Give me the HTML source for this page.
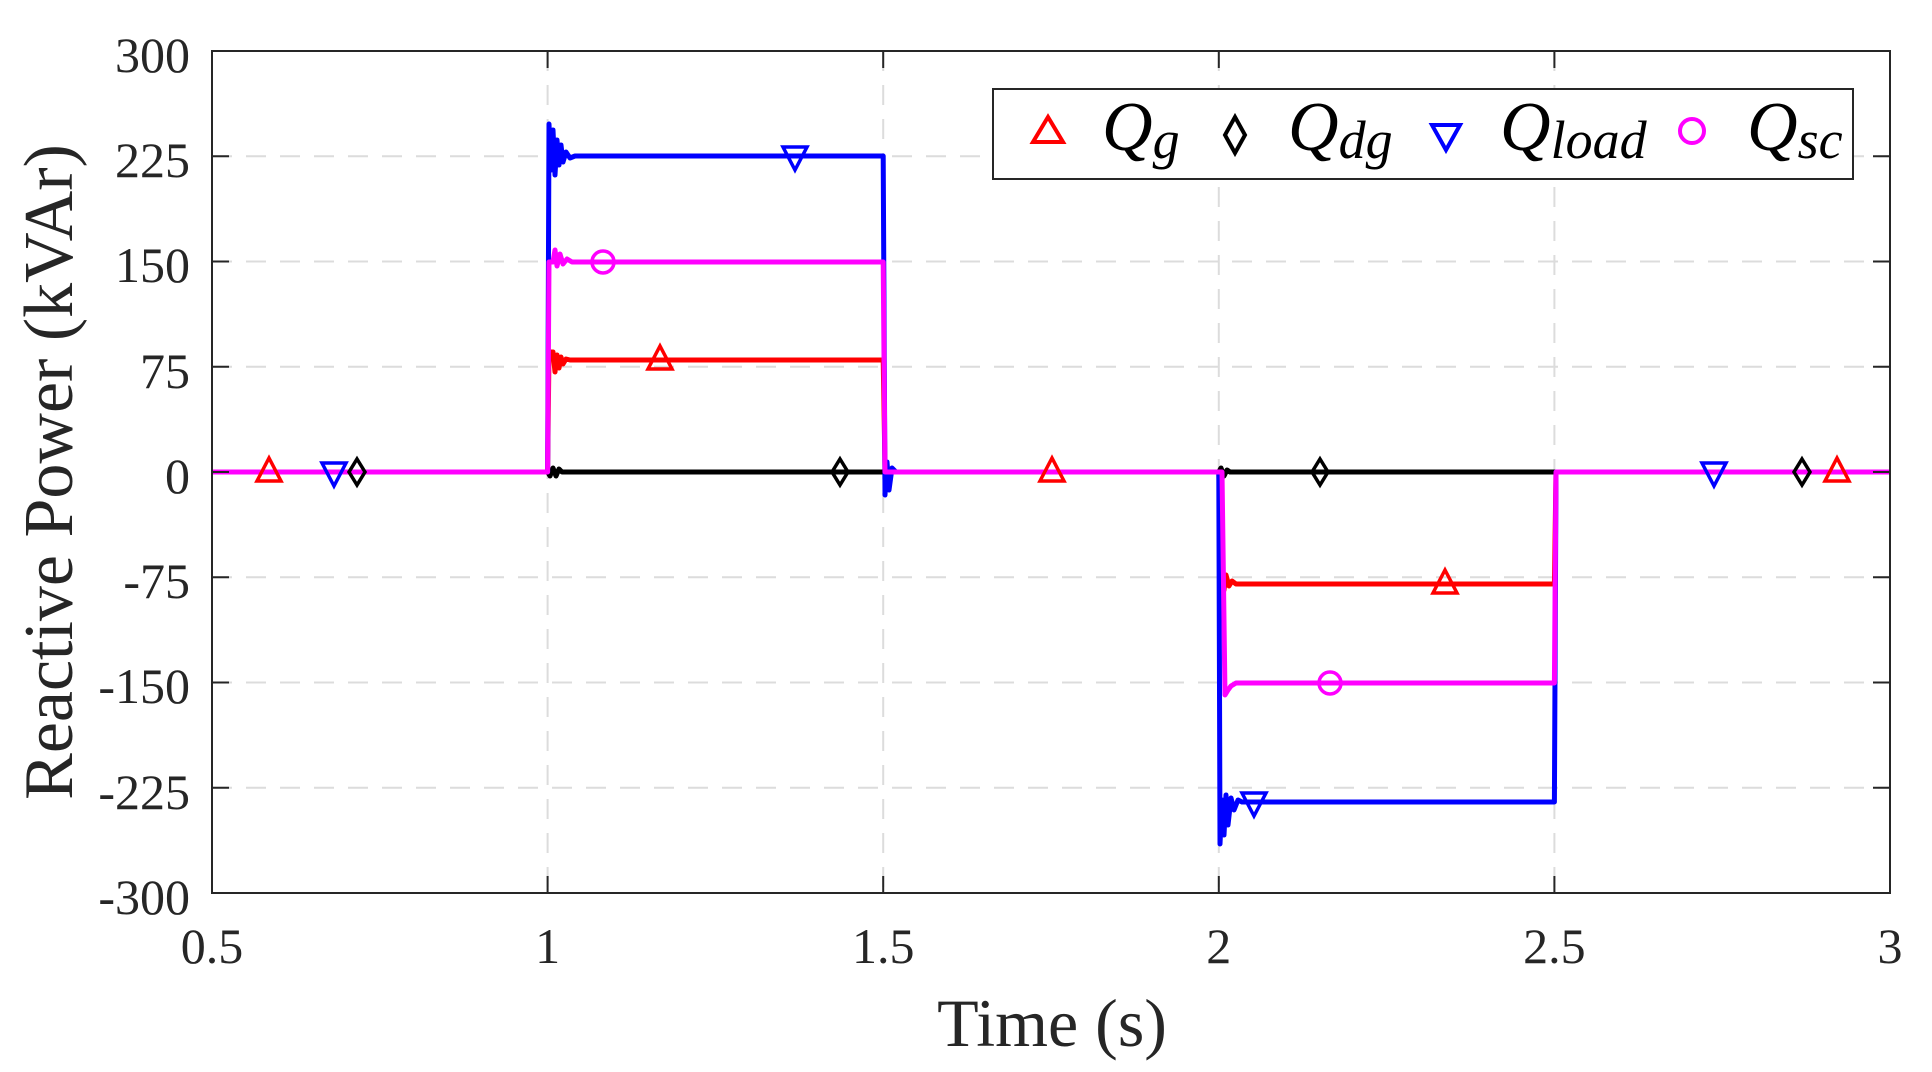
<!DOCTYPE html>
<html><head><meta charset="utf-8"><style>
body{margin:0;background:#fff;}
svg{display:block;}
text{font-family:"Liberation Serif",serif;fill:#262626;}
</style></head><body>
<svg width="1932" height="1072" viewBox="0 0 1932 1072" xmlns="http://www.w3.org/2000/svg">
<rect width="1932" height="1072" fill="#fff"/>
<g stroke="#dcdcdc" stroke-width="2" stroke-dasharray="20,14">
<line x1="547.6" y1="51" x2="547.6" y2="893"/>
<line x1="883.2" y1="51" x2="883.2" y2="893"/>
<line x1="1218.8" y1="51" x2="1218.8" y2="893"/>
<line x1="1554.4" y1="51" x2="1554.4" y2="893"/>
<line x1="212" y1="156.3" x2="1890" y2="156.3"/>
<line x1="212" y1="261.5" x2="1890" y2="261.5"/>
<line x1="212" y1="366.8" x2="1890" y2="366.8"/>
<line x1="212" y1="472" x2="1890" y2="472"/>
<line x1="212" y1="577.3" x2="1890" y2="577.3"/>
<line x1="212" y1="682.5" x2="1890" y2="682.5"/>
<line x1="212" y1="787.8" x2="1890" y2="787.8"/>
</g>
<g fill="none" stroke-width="5" stroke-linejoin="round">
<path stroke="#ff0000" d="M212,472 L547.6,472 L549,352 L553,352 L555,372 L557,355 L559,368 L561,357 L563,364 L566,359 L570,360 L883.2,360 L885,468 L888,476 L891,470 L895,472 L1218.8,472 L1221,560 L1224,590 L1226,575 L1229,586 L1232,581 L1236,584 L1554.4,584 L1556,472 L1890,472"/>
<path stroke="#000" d="M212,472 L547.6,472 L550,476 L553,468 L556,476 L559,469 L562,472 L883.2,472 L1218.8,472 L1221,468 L1224,476 L1227,470 L1230,472 L1890,472"/>
<path stroke="#0000ff" d="M212,472 L547.6,472 L549,124 L551,170 L553,130 L555,175 L557,140 L559,165 L561,145 L563,162 L566,152 L570,158 L575,156 L883.2,156 L885,495 L887,462 L889,490 L892,468 L896,472 L1218.8,472 L1220,844 L1222,800 L1224,835 L1226,795 L1228,825 L1231,798 L1234,810 L1238,800 L1242,802 L1554.4,802 L1556,472 L1890,472"/>
<path stroke="#ff00ff" d="M212,472 L547.6,472 L549,262 L553,262 L555,250 L557,266 L560,254 L563,264 L567,259 L572,262 L883.2,262 L885,472 L1218.8,472 L1222,472 L1225,695 L1228,690 L1231,686 L1236,683 L1554.4,683 L1556,472 L1890,472"/>
</g>
<g fill="none" stroke-width="3.5">
<g stroke="#ff0000">
<path d="M269,458 L257,481 L281,481 Z"/><path d="M660,346 L648,369 L672,369 Z"/><path d="M1052,458 L1040,481 L1064,481 Z"/><path d="M1445,570 L1433,593 L1457,593 Z"/><path d="M1837,458 L1825,481 L1849,481 Z"/>
</g>
<g stroke="#000">
<path d="M357,459 L365,472 L357,485 L349,472 Z"/><path d="M840,459 L848,472 L840,485 L832,472 Z"/><path d="M1320,459 L1328,472 L1320,485 L1312,472 Z"/><path d="M1802,459 L1810,472 L1802,485 L1794,472 Z"/>
</g>
<g stroke="#0000ff">
<path d="M322,463 L346,463 L334,486 Z"/><path d="M783,147 L807,147 L795,170 Z"/><path d="M1242,793 L1266,793 L1254,816 Z"/><path d="M1702,463 L1726,463 L1714,486 Z"/>
</g>
<g stroke="#ff00ff">
<circle cx="603" cy="262" r="11"/><circle cx="1330" cy="683" r="11"/>
</g>
</g>
<rect x="212" y="51" width="1678" height="842" fill="none" stroke="#262626" stroke-width="2"/>
<g stroke="#262626" stroke-width="2">
<line x1="547.6" y1="893" x2="547.6" y2="876"/><line x1="883.2" y1="893" x2="883.2" y2="876"/><line x1="1218.8" y1="893" x2="1218.8" y2="876"/><line x1="1554.4" y1="893" x2="1554.4" y2="876"/>
<line x1="547.6" y1="51" x2="547.6" y2="68"/><line x1="883.2" y1="51" x2="883.2" y2="68"/><line x1="1218.8" y1="51" x2="1218.8" y2="68"/><line x1="1554.4" y1="51" x2="1554.4" y2="68"/>
<line x1="212" y1="156.3" x2="229" y2="156.3"/><line x1="212" y1="261.5" x2="229" y2="261.5"/><line x1="212" y1="366.8" x2="229" y2="366.8"/><line x1="212" y1="472" x2="229" y2="472"/><line x1="212" y1="577.3" x2="229" y2="577.3"/><line x1="212" y1="682.5" x2="229" y2="682.5"/><line x1="212" y1="787.8" x2="229" y2="787.8"/>
<line x1="1890" y1="156.3" x2="1873" y2="156.3"/><line x1="1890" y1="261.5" x2="1873" y2="261.5"/><line x1="1890" y1="366.8" x2="1873" y2="366.8"/><line x1="1890" y1="472" x2="1873" y2="472"/><line x1="1890" y1="577.3" x2="1873" y2="577.3"/><line x1="1890" y1="682.5" x2="1873" y2="682.5"/><line x1="1890" y1="787.8" x2="1873" y2="787.8"/>
</g>
<g font-size="50" text-anchor="end">
<text x="190" y="72">300</text><text x="190" y="177">225</text><text x="190" y="282">150</text><text x="190" y="388">75</text><text x="190" y="493">0</text><text x="190" y="598">-75</text><text x="190" y="703">-150</text><text x="190" y="809">-225</text><text x="190" y="914">-300</text>
</g>
<g font-size="50" text-anchor="middle">
<text x="212" y="963">0.5</text><text x="547.6" y="963">1</text><text x="883.2" y="963">1.5</text><text x="1218.8" y="963">2</text><text x="1554.4" y="963">2.5</text><text x="1890" y="963">3</text>
</g>
<text x="1052" y="1046" font-size="68" text-anchor="middle">Time (s)</text>
<text transform="translate(72,472) rotate(-90)" font-size="70" text-anchor="middle">Reactive Power (kVAr)</text>
<rect x="993" y="89" width="860" height="90" fill="#fff" stroke="#262626" stroke-width="2"/>
<g fill="none" stroke-width="4">
<path stroke="#ff0000" d="M1048,117 L1033,142 L1063,142 Z"/>
<path stroke="#000" d="M1235,117 L1245,135 L1235,153 L1225,135 Z"/>
<path stroke="#0000ff" d="M1432,125 L1460,125 L1446,150 Z"/>
<circle stroke="#ff00ff" cx="1692" cy="131" r="12"/>
</g>
<g font-size="70" font-style="italic">
<text x="1102" y="150" style="fill:#000">Q<tspan font-size="54" dy="8">g</tspan></text>
<text x="1288" y="150" style="fill:#000">Q<tspan font-size="54" dy="8">dg</tspan></text>
<text x="1500" y="150" style="fill:#000">Q<tspan font-size="54" dy="8">load</tspan></text>
<text x="1747" y="150" style="fill:#000">Q<tspan font-size="54" dy="8">sc</tspan></text>
</g>
</svg>
</body></html>
